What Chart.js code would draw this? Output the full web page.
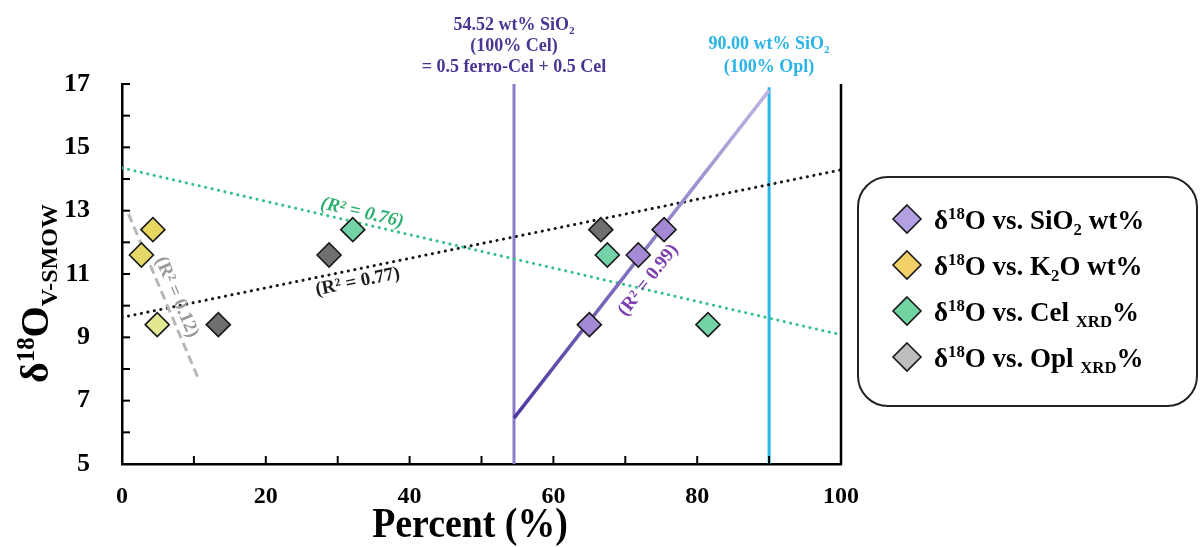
<!DOCTYPE html>
<html>
<head>
<meta charset="utf-8">
<script src="https://cdn.jsdelivr.net/npm/chart.js@4.4.0/dist/chart.umd.min.js"></script>
<style>
  html, body { margin: 0; padding: 0; background: #fff; }
</style>
</head>
<body>
<canvas id="chart" width="1201" height="547"></canvas>
<script>
// sample values (x = percent, y = d18O)
const siO2Pct = [65.0, 71.8, 75.4];
const siO2D18O = [9.4, 11.6, 12.4];
const k2oPct = [2.7, 4.3, 4.9];
const k2oD18O = [11.6, 12.4, 9.4];
const celPct = [32.1, 67.5, 81.5];
const celD18O = [12.4, 11.6, 9.4];
const oplPct = [13.4, 28.8, 66.6];
const oplD18O = [9.4, 11.6, 12.4];

// trend line end points
const siO2FitX = [54.52, 90];
const siO2FitY = [6.45, 16.8];
const k2oFitX = [0.9, 10.5];
const k2oFitY = [12.9, 7.76];
const celFitX = [0, 100];
const celFitY = [14.35, 9.08];
const oplFitX = [0, 100];
const oplFitY = [9.63, 14.29];

// end-member reference lines
const celRefX = 54.52;
const oplRefX = 90;
const celRefY = [5, 17];
const oplRefY = [5, 16.9];

// R² labels: text, anchor (data coords), angle in degrees
const r2Labels = ["(R\u00b2 = 0.99)", "(R\u00b2 = 0.12)", "(R\u00b2 = 0.76)", "(R\u00b2 = 0.77)"];
const r2X = [73.2, 7.6, 33.4, 32.8];
const r2Y = [10.8, 10.27, 12.93, 10.75];
const r2Angle = [-52, 67, 13, -11.5];

const xMin = 0, xMax = 100, yMin = 5, yMax = 17;

const SERIF = "'Liberation Serif', 'Times New Roman', serif";

function pts(xs, ys) {
    return xs.map(function (x, i) { return { x: x, y: ys[i] }; });
}

// text pieces with super/subscripts
function richWidth(c, parts, size) {
    let w = 0;
    parts.forEach(function (p) {
        const s = p.sup || p.sub ? size * (p.scale || 0.62) : size;
        c.font = "bold " + s + "px " + SERIF;
        w += c.measureText(p.t).width;
    });
    return w;
}
function drawRich(c, parts, x, y, size, align) {
    let cx = x;
    if (align === "center") cx = x - richWidth(c, parts, size) / 2;
    parts.forEach(function (p) {
        const s = p.sup || p.sub ? size * (p.scale || 0.62) : size;
        c.font = "bold " + s + "px " + SERIF;
        let dy = 0;
        if (p.sup) dy = -size * 0.36;
        if (p.sub) dy = size * 0.22;
        c.fillText(p.t, cx, y + dy);
        cx += c.measureText(p.t).width;
    });
}

const legendItems = [
    { fill: "#b3a1e3", parts: [{ t: "\u03b4" }, { t: "18", sup: true }, { t: "O vs. SiO" }, { t: "2", sub: true }, { t: " wt%" }] },
    { fill: "#f4d168", parts: [{ t: "\u03b4" }, { t: "18", sup: true }, { t: "O vs. K" }, { t: "2", sub: true }, { t: "O wt%" }] },
    { fill: "#6fd3a2", parts: [{ t: "\u03b4" }, { t: "18", sup: true }, { t: "O vs. Cel " }, { t: "XRD", sub: true }, { t: "%" }] },
    { fill: "#bdbdbd", parts: [{ t: "\u03b4" }, { t: "18", sup: true }, { t: "O vs. Opl " }, { t: "XRD", sub: true }, { t: "%" }] }
];

function diamond(c, x, y, r, fill) {
    c.beginPath();
    c.moveTo(x, y - r);
    c.lineTo(x + r, y);
    c.lineTo(x, y + r);
    c.lineTo(x - r, y);
    c.closePath();
    c.fillStyle = fill;
    c.fill();
    c.lineWidth = 1.6;
    c.strokeStyle = "#1a1a1a";
    c.stroke();
}

const overlay = {
    id: "overlay",
    afterDatasetsDraw(chart) {
        const c = chart.ctx;
        const xs = chart.scales.x, ys = chart.scales.y;
        const area = chart.chartArea;
        const colors = ["#7b3fae", "#9a9a9a", "#2fb070", "#1e1e1e"];
        c.save();
        c.textAlign = "center";
        c.textBaseline = "middle";
        r2Labels.forEach(function (t, i) {
            c.save();
            c.translate(xs.getPixelForValue(r2X[i]), ys.getPixelForValue(r2Y[i]));
            c.rotate(r2Angle[i] * Math.PI / 180);
            c.font = (i === 2 ? "italic " : "") + "bold 19px " + SERIF;
            c.fillStyle = colors[i];
            c.fillText(t, 0, 0);
            c.restore();
        });
        c.restore();

        // inward tick marks and right frame line
        c.save();
        c.strokeStyle = "#000";
        c.lineWidth = 2;
        for (let v = yMin; v <= yMax; v++) {
            const py = ys.getPixelForValue(v);
            c.beginPath(); c.moveTo(area.left, py); c.lineTo(area.left + 8, py); c.stroke();
        }
        for (let v = xMin; v <= xMax; v += 10) {
            const px = xs.getPixelForValue(v);
            c.beginPath(); c.moveTo(px, area.bottom); c.lineTo(px, area.bottom - 8); c.stroke();
        }
        c.lineWidth = 2.5;
        c.beginPath(); c.moveTo(area.right, area.top); c.lineTo(area.right, area.bottom + 1); c.stroke();
        c.restore();
    },
    afterDraw(chart) {
        const c = chart.ctx;
        const xs = chart.scales.x;
        c.save();
        c.textBaseline = "alphabetic";

        // end-member notes above the plot
        const celX = xs.getPixelForValue(celRefX);
        const oplX = xs.getPixelForValue(oplRefX);
        c.fillStyle = "#4a3592";
        drawRich(c, [{ t: "54.52 wt% SiO" }, { t: "2", sub: true }], celX, 30, 18, "center");
        drawRich(c, [{ t: "(100% Cel)" }], celX, 51, 18, "center");
        drawRich(c, [{ t: "= 0.5 ferro-Cel + 0.5 Cel" }], celX, 72, 18, "center");
        c.fillStyle = "#29b3e6";
        drawRich(c, [{ t: "90.00 wt% SiO" }, { t: "2", sub: true }], oplX, 49, 18, "center");
        drawRich(c, [{ t: "(100% Opl)" }], oplX, 72, 18, "center");

        // x title
        c.fillStyle = "#000";
        c.save();
        c.translate(470, 537);
        c.scale(0.9, 1);
        c.font = "bold 42px " + SERIF;
        c.textAlign = "center";
        c.fillText("Percent (%)", 0, 0);
        c.restore();

        // y title
        c.save();
        c.translate(48, 383);
        c.rotate(-Math.PI / 2);
        c.textAlign = "left";
        const yParts = [{ t: "\u03b4" }, { t: "18", sup: true, scale: 0.62 }, { t: "O" }, { t: "V-SMOW", sub: true, scale: 0.6 }];
        drawRich(c, yParts, 0, 0, 40, "left");
        c.restore();

        // legend box
        c.lineWidth = 2;
        c.strokeStyle = "#222";
        c.beginPath();
        c.roundRect(858, 177, 339, 229, 30);
        c.stroke();
        const rowY = [219, 265, 311, 357];
        legendItems.forEach(function (it, i) {
            diamond(c, 907, rowY[i], 14, it.fill);
            c.fillStyle = "#000";
            drawRich(c, it.parts, 934, rowY[i] + 10, 27, "left");
        });
        c.restore();
    }
};

const ctx = document.getElementById("chart").getContext("2d");

function purpleGradient(context) {
    const area = context.chart.chartArea;
    if (!area) return "#7a66c0";
    const g = context.chart.ctx.createLinearGradient(0, area.bottom, 0, area.top);
    g.addColorStop(0, "#3f2596");
    g.addColorStop(1, "#c2b8e6");
    return g;
}

const pointStyleBase = { showLine: false, pointStyle: "rectRot", pointRadius: 12, pointHoverRadius: 12, pointBorderColor: "#1a1a1a", pointBorderWidth: 1.6, order: 0 };

const myChart = new Chart(ctx, {
    type: "scatter",
    data: {
        datasets: [
            Object.assign({ label: "SiO2", data: pts(siO2Pct, siO2D18O), backgroundColor: "#a48ad6" }, pointStyleBase),
            Object.assign({ label: "K2O", data: pts(k2oPct, k2oD18O), backgroundColor: ["#e4d968", "#e8d75f", "#e2e892"] }, pointStyleBase),
            Object.assign({ label: "Cel", data: pts(celPct, celD18O), backgroundColor: "#74d3a6" }, pointStyleBase),
            Object.assign({ label: "Opl", data: pts(oplPct, oplD18O), backgroundColor: "#6f6f6f" }, pointStyleBase),
            { label: "SiO2 fit", data: pts(siO2FitX, siO2FitY), showLine: true, pointRadius: 0, borderWidth: 3.5, borderColor: purpleGradient, order: 2 },
            { label: "K2O fit", data: pts(k2oFitX, k2oFitY), showLine: true, pointRadius: 0, borderWidth: 3, borderColor: "#b8b8b8", borderDash: [9, 5], order: 2 },
            { label: "Cel fit", data: pts(celFitX, celFitY), showLine: true, pointRadius: 0, borderWidth: 3, borderColor: "#35c087", borderDash: [0.1, 6.5], borderCapStyle: "round", order: 2 },
            { label: "Opl fit", data: pts(oplFitX, oplFitY), showLine: true, pointRadius: 0, borderWidth: 3, borderColor: "#151515", borderDash: [0.1, 6.5], borderCapStyle: "round", order: 2 },
            { label: "Cel end", data: pts([celRefX, celRefX], celRefY), showLine: true, pointRadius: 0, borderWidth: 3, borderColor: "#8c7bc8", order: 3 },
            { label: "Opl end", data: pts([oplRefX, oplRefX], oplRefY), showLine: true, pointRadius: 0, borderWidth: 3, borderColor: "#2cb6ea", order: 3 }
        ]
    },
    options: {
        responsive: false,
        animation: false,
        layout: { padding: { left: 0, right: 360, top: 84, bottom: 0 } },
        plugins: { legend: { display: false }, tooltip: { enabled: false } },
        scales: {
            x: {
                type: "linear",
                min: xMin, max: xMax,
                grid: { display: false, drawTicks: false },
                border: { display: true, color: "#000", width: 2.5 },
                ticks: {
                    stepSize: 20,
                    padding: 18,
                    color: "#000",
                    font: { family: SERIF, size: 24, weight: "bold" }
                },
                afterFit: function (scale) { scale.height = 83; }
            },
            y: {
                type: "linear",
                min: yMin, max: yMax,
                grid: { display: false, drawTicks: false },
                border: { display: true, color: "#000", width: 2.5 },
                ticks: {
                    stepSize: 2,
                    padding: 32,
                    color: "#000",
                    font: { family: SERIF, size: 26, weight: "bold" }
                },
                afterFit: function (scale) { scale.width = 122; }
            }
        }
    },
    plugins: [overlay]
});
</script>
</body>
</html>
